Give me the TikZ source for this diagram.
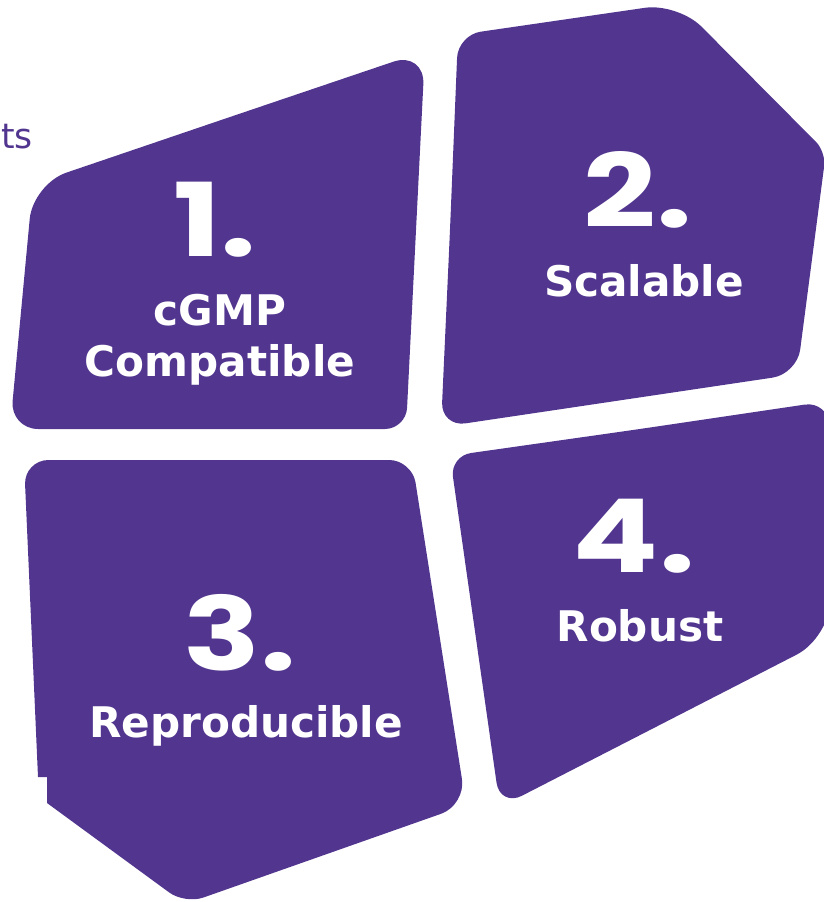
\documentclass[tikz,border=0pt]{standalone}
\usepackage{fontspec}
\setmainfont{DejaVu Sans}
\newfontfamily\numfont{Poppins}
\usetikzlibrary{positioning}
\definecolor{tilepurple}{RGB}{81,53,143}

\begin{document}
\begin{tikzpicture}[x=0.02cm, y=-0.02cm,
  tile/.style={fill=tilepurple},
  tilenum/.style={text=white, font=\numfont\bfseries\fontsize{58}{58}\selectfont, anchor=base, xscale=1.25},
  tiletext/.style={text=white, font=\bfseries\fontsize{24}{29}\selectfont, align=center, anchor=base}]
\useasboundingbox (0,0) rectangle (824,902);
\clip (0,0) rectangle (824,902);

% tile 1, top left
\fill[tile] (230,117) [rounded corners=19pt] -- (425,51) [rounded corners=12pt] -- (406,429)
  [rounded corners=16pt] -- (10,429) [rounded corners=20pt] -- (33,184) -- cycle;
% tile 2, top right
\fill[tile] (450,230) [rounded corners=13pt] -- (458,35) [rounded corners=19pt] -- (678,3)
  [rounded corners=8pt] -- (826,152) [rounded corners=14pt] -- (797,374)
  [rounded corners=14pt] -- (441,427) -- cycle;
% tile 3, bottom left (with the small step on its left side)
\fill[tile] (200,460) [rounded corners=13pt] -- (412,460) [rounded corners=15pt] -- (466,805)
  [rounded corners=11pt] -- (185,904) [sharp corners] -- (47,803) -- (47,777) -- (38,777)
  [rounded corners=14pt] -- (24,460) -- cycle;
% tile 4, bottom right
\fill[tile] (640,429) [rounded corners=14pt] -- (829,401) [rounded corners=22pt] -- (831,637)
  [rounded corners=14pt] -- (500,807) [rounded corners=12pt] -- (450,456) -- cycle;

\node[text=tilepurple, font=\fontsize{19.7}{24}\selectfont, anchor=base east, inner sep=0] (cut) at (33,149) {ts};

\node[tilenum] (n1) at (215,256) {1.};
\node[tiletext] (t1) at (220,376) {cGMP\\Compatible};
\node[tilenum] (n2) at (638,228) {2.};
\node[tiletext] (t2) at (644,296) {Scalable};
\node[tilenum] (n3) at (240,670) {3.};
\node[tiletext] (t3) at (246,737) {Reproducible};
\node[tilenum] (n4) at (634,572) {4.};
\node[tiletext] (t4) at (640,641) {Robust};
\end{tikzpicture}
\end{document}
